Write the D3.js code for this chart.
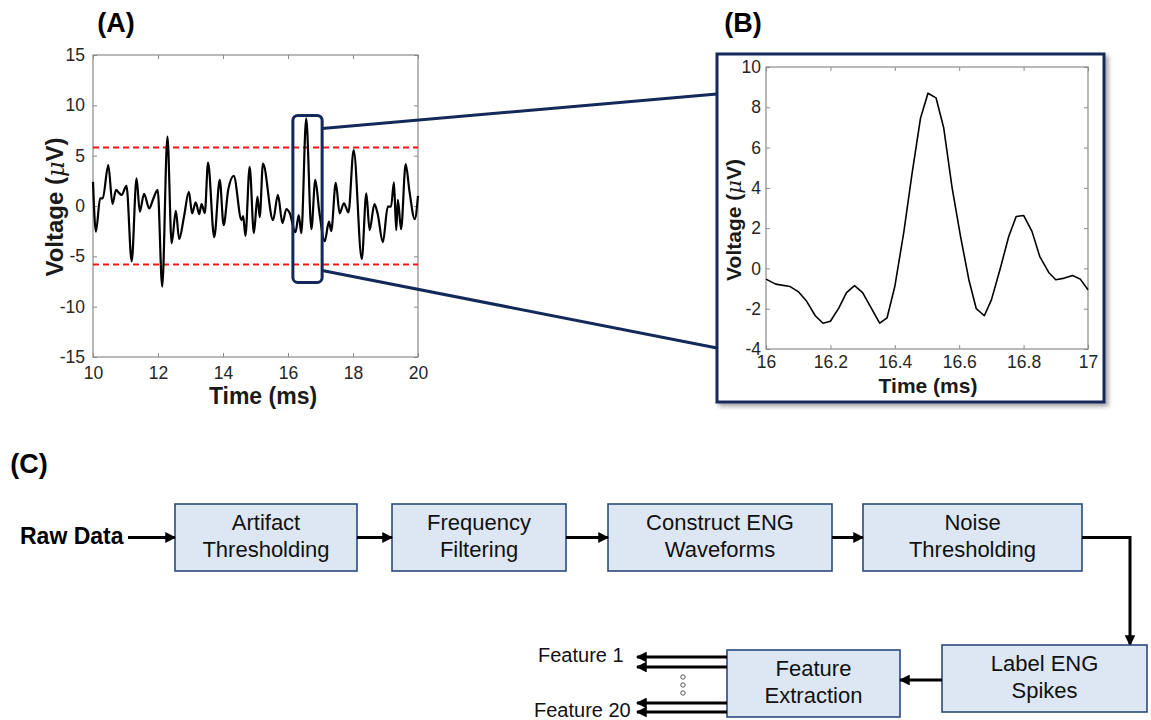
<!DOCTYPE html>
<html><head><meta charset="utf-8">
<script src="https://cdn.jsdelivr.net/npm/d3@7"></script>
<style>
body{margin:0;background:#fff}
svg{display:block}
text{font-family:"Liberation Sans",Arial,Helvetica,sans-serif}
</style>
</head><body>
<svg id="c" width="1151" height="720"></svg>
<script>
// ---------------- DATA ----------------
// Panel A : raw ENG trace (ms, µV)
const traceTime = [10.00,10.09,10.22,10.30,10.47,10.60,10.71,10.80,10.88,11.03,11.19,11.34,11.44,11.57,11.73,11.85,11.99,
  12.13,12.29,12.42,12.55,12.65,12.80,12.95,13.05,13.16,13.27,13.34,13.44,13.54,13.73,13.90,14.02,14.16,14.33,14.57,14.62,
  14.69,14.82,14.95,15.06,15.13,15.23,15.54,15.69,15.83,15.95,16.05,16.23,16.33,16.41,16.56,16.72,16.84,16.96,17.13,17.26,
  17.33,17.47,17.59,17.72,17.86,18.02,18.27,18.41,18.51,18.66,18.76,18.92,19.07,19.17,19.26,19.33,19.38,19.48,19.62,19.74,
  19.90,20.00];
const traceVolt = [2.4,-2.55,0.76,0.76,4.07,0.2,1.6,1.3,1.1,2.0,-5.5,2.75,-0.56,1.2,-0.23,0.67,1.6,
  -8.0,6.9,-3.7,-0.47,-3.3,-1.06,1.4,-0.73,0.37,-0.8,0.2,-0.7,4.3,-3.1,2.6,-1.9,1.6,3.0,-1.4,-1.0,
  -2.98,3.9,-2.7,0.93,-1.1,4.2,-1.4,1.1,-1.7,-0.3,-0.7,-2.6,-0.9,-2.7,8.7,-2.3,2.6,-0.5,-3.5,-1.56,
  -2.5,2.3,-0.73,0.27,-0.63,5.56,-5.26,1.26,-2.4,0.2,-0.8,-3.6,-0.07,-0.07,2.35,-2.4,0.6,-2.3,4.17,1.4,
  -1.3,1.0];
const thresholds = [5.8, -5.8];
const zoomTime = [16.15, 17.05];
const zoomVolt = [-7.6, 9.0];
const aXTicks = [10,12,14,16,18,20];
const aYTicks = [-15,-10,-5,0,5,10,15];

// Panel B : zoomed spike
const spikeTime = [16.000,16.030,16.075,16.100,16.125,16.153,16.177,16.200,16.226,16.250,16.275,16.300,16.327,16.353,
  16.376,16.400,16.428,16.453,16.480,16.503,16.528,16.552,16.578,16.604,16.630,16.653,16.678,16.700,16.728,16.754,
  16.777,16.800,16.826,16.850,16.878,16.900,16.927,16.952,16.976,17.000];
const spikeVolt = [-0.53,-0.78,-0.9,-1.15,-1.6,-2.35,-2.72,-2.62,-1.97,-1.2,-0.85,-1.2,-1.97,-2.72,
  -2.45,-0.9,1.8,4.65,7.47,8.7,8.47,6.97,4.0,1.6,-0.56,-2.0,-2.35,-1.56,0.02,1.6,
  2.58,2.63,1.84,0.6,-0.2,-0.56,-0.48,-0.35,-0.53,-1.06];
const bXTicks = [16,16.2,16.4,16.6,16.8,17];
const bYTicks = [-4,-2,0,2,4,6,8,10];

// Panel C : processing pipeline
const pipelineTop = [["Artifact","Thresholding"],["Frequency","Filtering"],["Construct ENG","Waveforms"],["Noise","Thresholding"]];
const pipelineBottom = [["Label ENG","Spikes"],["Feature","Extraction"]];
const inputLabel = "Raw Data";
const featureLabels = ["Feature 1","Feature 20"];
const panelLabels = ["(A)","(B)","(C)"];

// ---------------- DRAWING ----------------
const svg = d3.select("#c");
const NAVY = "#12295a";
const AX = "#8a8a8a";
const TXT = "#262626";

const defs = svg.append("defs");
defs.append("marker").attr("id","ah").attr("viewBox","0 0 10 10").attr("refX",9).attr("refY",5)
  .attr("markerWidth",3.6).attr("markerHeight",3.6).attr("orient","auto-start-reverse")
  .attr("markerUnits","strokeWidth")
  .append("path").attr("d","M0,0 L10,5 L0,10 Z").attr("fill","#000");
const sh = defs.append("filter").attr("id","shadow").attr("x","-10%").attr("y","-10%").attr("width","130%").attr("height","130%");
sh.append("feDropShadow").attr("dx",3).attr("dy",3).attr("stdDeviation",2).attr("flood-color","#000").attr("flood-opacity",0.35);

function framedAxes(g, x, y, xt, yt, opts){
  const [x0,x1] = x.range(), [y1,y0] = y.range();
  g.append("rect").attr("x",x0).attr("y",y0).attr("width",x1-x0).attr("height",y1-y0)
    .attr("fill","none").attr("stroke",AX).attr("stroke-width",1.2);
  const fmt = d => String(d);
  const styl = s => { s.select(".domain").remove(); s.selectAll(".tick line").attr("stroke",AX);
    s.selectAll(".tick text").attr("fill",TXT).style("font-size",opts.tick+"px"); };
  g.append("g").attr("transform",`translate(0,${y1})`).call(d3.axisBottom(x).tickValues(xt).tickFormat(fmt).tickSize(-4).tickPadding(opts.xpad)).call(styl);
  g.append("g").attr("transform",`translate(0,${y0})`).call(d3.axisTop(x).tickValues(xt).tickFormat("").tickSize(-4)).call(styl);
  g.append("g").attr("transform",`translate(${x0},0)`).call(d3.axisLeft(y).tickValues(yt).tickFormat(fmt).tickSize(-4).tickPadding(opts.ypad)).call(styl);
  g.append("g").attr("transform",`translate(${x1},0)`).call(d3.axisRight(y).tickValues(yt).tickFormat("").tickSize(-4)).call(styl);
}
function voltLabel(g, cx, cy, size){
  const t = g.append("text").attr("transform",`translate(${cx},${cy}) rotate(-90)`).attr("text-anchor","middle")
    .attr("dominant-baseline","middle").style("font-size",size+"px").style("font-weight","bold").attr("fill","#1a1a1a");
  t.append("tspan").text("Voltage (");
  t.append("tspan").text("\u03BC").style("font-style","italic").style("font-weight","normal").attr("font-family","DejaVu Serif, serif");
  t.append("tspan").text("V)");
}

// ---- Panel A ----
const gA = svg.append("g");
const xA = d3.scaleLinear().domain([10,20]).range([93,418]);
const yA = d3.scaleLinear().domain([-15,15]).range([357,55]);
framedAxes(gA, xA, yA, aXTicks, aYTicks, {tick:17.5, xpad:10, ypad:8});
thresholds.forEach(v => gA.append("line").attr("x1",xA(10)).attr("x2",xA(20)).attr("y1",yA(v)).attr("y2",yA(v))
  .attr("stroke","#ff1414").attr("stroke-width",2).attr("stroke-dasharray","6,4"));
gA.append("path").datum(d3.range(traceTime.length))
  .attr("d", d3.line().x(i=>xA(traceTime[i])).y(i=>yA(traceVolt[i])).curve(d3.curveMonotoneX))
  .attr("fill","none").attr("stroke","#000").attr("stroke-width",2.2).attr("stroke-linejoin","round");
gA.append("text").attr("x",263).attr("y",404).attr("text-anchor","middle").style("font-size","23px").style("font-weight","bold").attr("fill","#1a1a1a").text("Time (ms)");
voltLabel(gA, 57, 207, 24);

// zoom window rectangle
const rx0 = xA(zoomTime[0]), rx1 = xA(zoomTime[1]), ry0 = yA(zoomVolt[1]), ry1 = yA(zoomVolt[0]);
gA.append("rect").attr("x",rx0).attr("y",ry0).attr("width",rx1-rx0).attr("height",ry1-ry0).attr("rx",5)
  .attr("fill","none").attr("stroke",NAVY).attr("stroke-width",3);

// ---- Panel B ----
const frame = {x:717, y:54, w:387, h:348};
svg.append("rect").attr("x",frame.x).attr("y",frame.y).attr("width",frame.w).attr("height",frame.h)
  .attr("fill","#fff").attr("stroke",NAVY).attr("stroke-width",3).attr("filter","url(#shadow)");
// connectors
svg.append("line").attr("x1",rx1).attr("y1",ry0+13).attr("x2",frame.x).attr("y2",frame.y+40).attr("stroke",NAVY).attr("stroke-width",3);
svg.append("line").attr("x1",rx1).attr("y1",ry1-12).attr("x2",frame.x).attr("y2",frame.y+294).attr("stroke",NAVY).attr("stroke-width",3);

const gB = svg.append("g");
const xB = d3.scaleLinear().domain([16,17]).range([766,1088]);
const yB = d3.scaleLinear().domain([-4,10]).range([349,67]);
framedAxes(gB, xB, yB, bXTicks, bYTicks, {tick:17.5, xpad:7, ypad:5});
gB.append("path").datum(d3.range(spikeTime.length))
  .attr("d", d3.line().x(i=>xB(spikeTime[i])).y(i=>yB(spikeVolt[i])))
  .attr("fill","none").attr("stroke","#000").attr("stroke-width",1.6).attr("stroke-linejoin","round");
gB.append("text").attr("x",928).attr("y",393).attr("text-anchor","middle").style("font-size","21px").style("font-weight","bold").attr("fill","#1a1a1a").text("Time (ms)");
voltLabel(gB, 735, 220, 21);

// panel labels
const plPos = [[116,25],[743,25],[29,466]];
panelLabels.forEach((t,i)=> svg.append("text").attr("x",plPos[i][0]).attr("y",plPos[i][1]).attr("text-anchor","middle")
  .attr("dominant-baseline","middle").style("font-size","27px").style("font-weight","bold").attr("fill","#000").text(t));

// ---- Panel C ----
const gC = svg.append("g");
const topBoxes = [[175,357],[392,566],[608,832],[863,1082]];
const rowY = 504, bh = 67;
function box(x0,x1,y0,lines){
  gC.append("rect").attr("x",x0).attr("y",y0).attr("width",x1-x0).attr("height",bh)
    .attr("fill","#dde7f3").attr("stroke","#2b4a7c").attr("stroke-width",1.6);
  const cx=(x0+x1)/2, cy=y0+bh/2;
  lines.forEach((l,i)=> gC.append("text").attr("x",cx).attr("y",cy+(i===0?-13:14)).attr("text-anchor","middle")
    .attr("dominant-baseline","middle").style("font-size","22px").attr("fill","#111").text(l));
}
function arrow(pts){
  gC.append("path").attr("d", d3.line()(pts)).attr("fill","none").attr("stroke","#000").attr("stroke-width",3)
    .attr("marker-end","url(#ah)");
}
pipelineTop.forEach((l,i)=> box(topBoxes[i][0], topBoxes[i][1], rowY, l));
const midY = rowY + bh/2;
gC.append("text").attr("x",20).attr("y",midY).attr("dominant-baseline","middle").style("font-size","23px").style("font-weight","bold").attr("fill","#000").text(inputLabel);
arrow([[128,midY],[175,midY]]);
for(let i=0;i<3;i++) arrow([[topBoxes[i][1],midY],[topBoxes[i+1][0],midY]]);
const labelBox = [942,1147,645], featBox = [727,900,650];
arrow([[1082,midY],[1130,midY],[1130,labelBox[2]]]);
box(labelBox[0],labelBox[1],labelBox[2],pipelineBottom[0]);
box(featBox[0],featBox[1],featBox[2],pipelineBottom[1]);
arrow([[labelBox[0],680],[featBox[1],680]]);
[657,667,703,712].forEach(y=> arrow([[featBox[0],y],[637,y]]));
[677,685,693].forEach(y=> gC.append("circle").attr("cx",683).attr("cy",y).attr("r",2.2).attr("fill","#fff").attr("stroke","#555").attr("stroke-width",1));
gC.append("text").attr("x",538).attr("y",657).attr("dominant-baseline","middle").style("font-size","20px").attr("fill","#111").text(featureLabels[0]);
gC.append("text").attr("x",534).attr("y",712).attr("dominant-baseline","middle").style("font-size","20px").attr("fill","#111").text(featureLabels[1]);
</script>
</body></html>
